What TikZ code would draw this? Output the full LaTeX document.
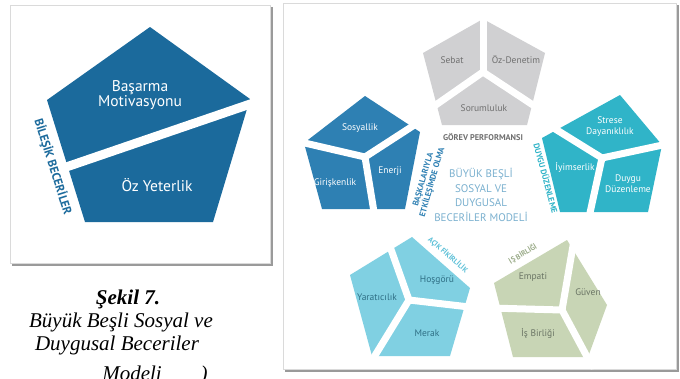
\documentclass[tikz,border=0pt]{standalone}
\usepackage{fontspec}
\setmainfont{PT Sans}
\newfontfamily\capfont{Liberation Serif}
\definecolor{darkblue}{HTML}{1B6A9C}
\definecolor{midblue}{HTML}{2E80B3}
\definecolor{teal}{HTML}{30B4C8}
\definecolor{lightblue}{HTML}{80D0E2}
\definecolor{lblabel}{HTML}{5BC0D8}
\definecolor{sage}{HTML}{C8D5B5}
\definecolor{lgray}{HTML}{D0D0D2}
\definecolor{graytext}{HTML}{707070}
\definecolor{lbtext}{HTML}{2F6F85}
\definecolor{sagetext}{HTML}{6B7565}
\definecolor{sagelabel}{HTML}{9AAB88}
\definecolor{titleblue}{HTML}{7AB0CF}
\definecolor{framecol}{HTML}{DADADA}
\definecolor{shadowcol}{HTML}{9A9A9A}
\begin{document}
\begin{tikzpicture}[x=1pt,y=-1pt,
  gapline/.style={draw=white,line width=7pt,line cap=round},
  bandline/.style={draw=white,line width=9pt},
  frame/.style={draw=framecol,line width=1pt,fill=white},
  shadow/.style={draw=shadowcol,line width=1.6pt},
  lbl/.style={font=\fontsize{9.5}{11}\selectfont,align=center,inner sep=0pt},
  biglbl/.style={font=\fontsize{15.5}{15.5}\selectfont,align=center,inner sep=0pt,text=white},
  caplbl/.style={font=\bfseries\fontsize{8.3}{9.3}\selectfont,align=center,inner sep=0pt},
  smallcap/.style={font=\bfseries\fontsize{7.3}{8}\selectfont,inner sep=0pt},
  captxt/.style={font=\capfont\itshape\fontsize{21}{23}\selectfont,inner sep=0pt,anchor=base}]
\useasboundingbox (0,0) rectangle (680,378);
\clip (0,0) rectangle (680,378);
\fill[white] (0,0) rectangle (680,378);

% ---------- left panel ----------
\draw[shadow] (12,265) -- (272,265) -- (272,7);
\draw[frame] (10,5) rectangle (270,263);
\fill[darkblue] (150,27) -- (250,99) -- (213,222) -- (85,222) -- (47,100) -- cycle;
\draw[bandline] (40,176) -- (262,100);
\node[biglbl] (basarma) at (140,95) {Başarma\\Motivasyonu};
\node[biglbl] (ozyet) at (157,185) {Öz Yeterlik};
\node[font=\bfseries\fontsize{12}{12}\selectfont,text=darkblue,inner sep=0pt,rotate=-72.5] (bilesik) at (53,167) {BİLEŞİK BECERİLER};

% caption
\node[captxt,font=\capfont\bfseries\itshape\fontsize{21}{23}\selectfont] (sekil) at (128,304) {Şekil 7.};
\node[captxt] (cap1) at (121,327) {Büyük Beşli Sosyal ve};
\node[captxt] (cap2) at (117,350) {Duygusal Beceriler};
\node[captxt] (cap3) at (132,380) {Modeli};
\node[captxt] (cap4) at (204,380) {)};

% ---------- right panel ----------
\draw[shadow] (285,371) -- (678,371) -- (678,5);
\draw[frame] (283,3) rectangle (676,369);

% gray pentagon
\fill[lgray] (483,19) -- (545,53) -- (527,125) -- (442,125) -- (423,53) -- cycle;
\draw[gapline] (483,72) -- (483,8);
\draw[gapline] (483,72) -- (430,109);
\draw[gapline] (483,72) -- (539,109);
\node[lbl,text=graytext] (sebat) at (452,60) {Sebat};
\node[lbl,text=graytext] (ozden) at (516,60) {Öz-Denetim};
\node[lbl,text=graytext] (sorum) at (484,108) {Sorumluluk};
\node[caplbl,text=graytext] (gorev) at (483,137) {GÖREV PERFORMANSI};

% blue pentagon
\fill[midblue] (365,96) -- (420,132) -- (405,209) -- (322,209) -- (304,143) -- cycle;
\draw[gapline] (365,157) -- (296,141);
\draw[gapline] (365,157) -- (419,122);
\draw[gapline] (365,157) -- (375,218);
\node[lbl,text=white] (sosyal) at (360,128) {Sosyallik};
\node[lbl,text=white] (girisk) at (335,183) {Girişkenlik};
\node[lbl,text=white] (enerji) at (390,171) {Enerji};
\node[caplbl,text=midblue,rotate=74] (baskala) at (428,181) {BAŞKALARIYLA\\ETKİLEŞİMDE OLMA};

% teal pentagon
\fill[teal] (620,95) -- (662,145) -- (648,212) -- (560,212) -- (542,138) -- cycle;
\draw[gapline] (602,158) -- (552,127);
\draw[gapline] (602,158) -- (672,143);
\draw[gapline] (602,158) -- (588,222);
\node[lbl,text=white] (strese) at (610,127) {Strese\\Dayanıklılık};
\node[lbl,text=white] (iyimser) at (575,167) {İyimserlik};
\node[lbl,text=white] (duygu) at (628,184) {Duygu\\Düzenleme};
\node[caplbl,text=teal,rotate=-75] (duyguduz) at (546,178) {DUYGU DÜZENLEME};

% center title
\node[font=\fontsize{11}{14.5}\selectfont,text=titleblue,align=center,inner sep=0pt] (title) at (481,195) {BÜYÜK BEŞLİ\\SOSYAL VE\\DUYGUSAL\\BECERİLER MODELİ};

% light blue pentagon
\fill[lightblue] (412,237) -- (470,288) -- (450,356) -- (372,356) -- (350,275) -- cycle;
\draw[gapline] (409,300) -- (388,241);
\draw[gapline] (409,300) -- (478,308);
\draw[gapline] (409,300) -- (371,362);
\node[lbl,text=lbtext] (yarat) at (377,297) {Yaratıcılık};
\node[lbl,text=lbtext] (hosgoru) at (437,280) {Hoşgörü};
\node[lbl,text=lbtext] (merak) at (427,333) {Merak};
\node[smallcap,text=lblabel,rotate=-41] (acik) at (448,255) {AÇIK FİKİRLİLİK};

% sage pentagon
\fill[sage] (567,240) -- (607,305) -- (588,357) -- (513,357) -- (494,283) -- cycle;
\draw[gapline] (562,310) -- (574,240);
\draw[gapline] (562,310) -- (490,308);
\draw[gapline] (562,310) -- (592,366);
\node[lbl,text=sagetext] (empati) at (533,277) {Empati};
\node[lbl,text=sagetext] (guven) at (588,292) {Güven};
\node[lbl,text=sagetext] (isbir) at (538,333) {İş Birliği};
\node[smallcap,text=sagelabel,rotate=31] (isbirligi) at (523,254) {İŞ BİRLİĞİ};
\end{tikzpicture}
\end{document}
